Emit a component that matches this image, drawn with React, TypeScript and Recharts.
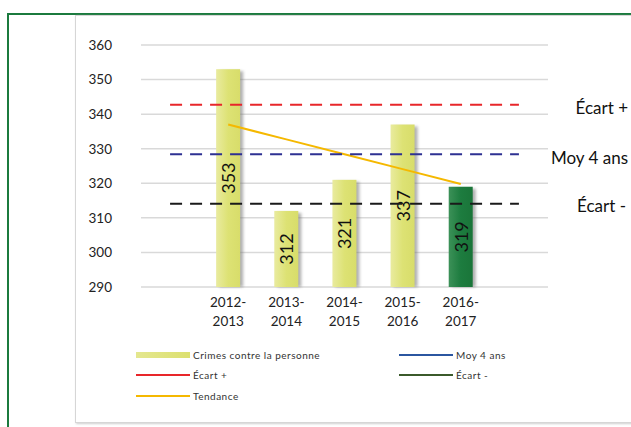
import {
  ComposedChart, Bar, Line, XAxis, YAxis, CartesianGrid, Cell,
} from "recharts"

// two empty slots frame the five seasons, like the original workbook
const categories = ["", "2012-2013", "2013-2014", "2014-2015", "2015-2016", "2016-2017", " "]
const crimes     = [null, 353, 312, 321, 337, 319, null]
const moy4ans    = [328.4, 328.4, 328.4, 328.4, 328.4, 328.4, 328.4]
const ecartPlus  = [342.7, 342.7, 342.7, 342.7, 342.7, 342.7, 342.7]
const ecartMoins = [314.1, 314.1, 314.1, 314.1, 314.1, 314.1, 314.1]
const tendance   = [null, 337.0, 332.7, 328.4, 324.1, 319.8, null]
const yTicks     = [290, 300, 310, 320, 330, 340, 350, 360]
const HIGHLIGHT  = 5 // last season drawn in dark green

const data = categories.map((c, i) => ({
  cat: c,
  crimes: crimes[i],
  moy: moy4ans[i],
  plus: ecartPlus[i],
  moins: ecartMoins[i],
  tend: tendance[i],
}))

const FONT = "Lato, 'Open Sans', sans-serif"

function BarShape(props: any) {
  const { x, y, width, height, fill, index, value } = props
  if (!height) return null
  const cx = x + width / 2
  const cy = y + height / 2
  const v = Array.isArray(value) ? value[1] : value
  return (
    <g>
      <rect x={x + 3} y={y + 2} width={width} height={height - 2} fill="#6f6f6f" opacity={0.55} filter="url(#blurShadow)" />
      <rect x={x} y={y} width={width} height={height} fill={fill} />
      <text
        x={cx} y={cy} transform={`rotate(-90 ${cx} ${cy})`}
        textAnchor="middle" dominantBaseline="central"
        fontSize={18} fontFamily={FONT} fill={index === HIGHLIGHT ? "#ffffff" : "#111"}
      >
        {v}
      </text>
    </g>
  )
}

function XTick(props: any) {
  const { x, y, payload } = props
  const v: string = payload.value
  if (!v.trim()) return null
  const [a, b] = v.split("-")
  return (
    <text x={x} y={y} textAnchor="middle" fontSize={13.5} fill="#222" fontFamily={FONT}>
      <tspan x={x} dy={12}>{a}-</tspan>
      <tspan x={x} dy={19}>{b}</tspan>
    </text>
  )
}

function LegendBox() {
  const item = (left: number, top: number, color: string, label: string, thick = false) => (
    <div style={{ position: "absolute", left, top, display: "flex", alignItems: "center", height: 12 }}>
      <div style={{
        width: 54, height: thick ? 6 : 2,
        background: thick ? "linear-gradient(90deg,#e4e78f,#dce06f)" : color,
      }} />
      <span style={{ marginLeft: 3, fontSize: 10, letterSpacing: 0.5, color: "#333", fontFamily: FONT }}>{label}</span>
    </div>
  )
  return (
    <div style={{ position: "absolute", left: 0, top: 349, width: 631, height: 70 }}>
      {item(136, 0, "", "Crimes contre la personne", true)}
      {item(136, 20, "#e8262a", "Écart +")}
      {item(136, 41, "#f5b800", "Tendance")}
      {item(399, 0, "#2b56a0", "Moy 4 ans")}
      {item(399, 20, "#3b5a2b", "Écart -")}
    </div>
  )
}

export default function App() {
  return (
    <div style={{ position: "fixed", left: 0, top: 0, width: 631, height: 427, overflow: "hidden", background: "#fff" }}>
      <div style={{ position: "absolute", left: 7, top: 13, width: 700, height: 500, border: "2px solid #1b7a3e" }} />
      <div style={{
        position: "absolute", left: 75, top: 15, width: 700, height: 406,
        border: "1px solid #d6d6d6", boxShadow: "1px 1px 2px #cfcfcf", background: "#fff",
      }} />
      <div style={{ position: "absolute", left: 0, top: 0 }}>
        <ComposedChart width={631} height={427} data={data} margin={{ top: 45, right: 83, bottom: 90, left: 101 }}>
          <defs>
            <linearGradient id="gYellow" x1="0" y1="0" x2="1" y2="0">
              <stop offset="0" stopColor="#e9eb9f" />
              <stop offset="0.5" stopColor="#dde274" />
              <stop offset="1" stopColor="#d8dd6a" />
            </linearGradient>
            <linearGradient id="gGreen" x1="0" y1="0" x2="1" y2="0">
              <stop offset="0" stopColor="#3c9158" />
              <stop offset="0.5" stopColor="#1d7c3f" />
              <stop offset="1" stopColor="#1a7539" />
            </linearGradient>
            <filter id="blurShadow" x="-50%" y="-10%" width="200%" height="120%">
              <feGaussianBlur stdDeviation="1.5" />
            </filter>
          </defs>
          <CartesianGrid vertical={false} stroke="#d9d9d9" strokeWidth={1.5} />
          <XAxis dataKey="cat" axisLine={false} tickLine={false} tick={<XTick />} interval={0} height={50} />
          <YAxis
            domain={[290, 360]} ticks={yTicks} interval={0} axisLine={false} tickLine={false} width={40}
            tickSize={0} tickMargin={29} tick={{ fontSize: 13.5, fill: "#222", fontFamily: FONT }}
          />
          <Bar dataKey="crimes" barSize={24} shape={<BarShape />} isAnimationActive={false}>
            {data.map((_, i) => (
              <Cell key={i} fill={i === HIGHLIGHT ? "url(#gGreen)" : "url(#gYellow)"} />
            ))}
          </Bar>
          <Line dataKey="tend" stroke="#f5b800" strokeWidth={2} dot={false} isAnimationActive={false} />
          <Line dataKey="plus" stroke="#e8262a" strokeWidth={2} strokeDasharray="12 8" dot={false} isAnimationActive={false} />
          <Line dataKey="moy" stroke="#2e3192" strokeWidth={2} strokeDasharray="12 8" dot={false} isAnimationActive={false} />
          <Line dataKey="moins" stroke="#1a1a1a" strokeWidth={2} strokeDasharray="12 8" dot={false} isAnimationActive={false} />
        </ComposedChart>
      </div>
      <LegendBox />
      <div style={{ position: "absolute", right: 3, top: 97, fontSize: 17, fontFamily: FONT, color: "#111" }}>Écart +</div>
      <div style={{ position: "absolute", right: 3, top: 147, fontSize: 17, fontFamily: FONT, color: "#111" }}>Moy 4 ans</div>
      <div style={{ position: "absolute", right: 5, top: 195, fontSize: 17, fontFamily: FONT, color: "#111" }}>Écart -</div>
    </div>
  )
}
